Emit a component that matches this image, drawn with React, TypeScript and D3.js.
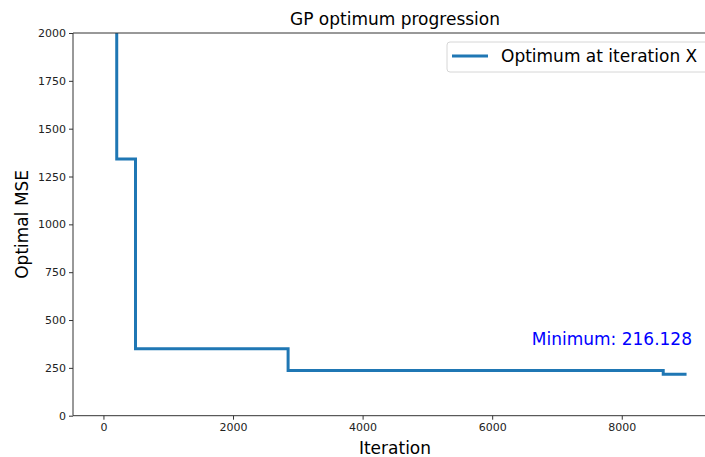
import { useEffect, useRef } from 'react'
import * as d3 from 'd3'

// improvement points of the optimizer (steps-post)
const iterations = [0, 205, 495, 2850, 8640, 9000]
const optimumMse = [5000, 1342, 350, 236, 216.128, 216.128]
const xTicks = [0, 2000, 4000, 6000, 8000]
const yTicks = [0, 250, 500, 750, 1000, 1250, 1500, 1750, 2000]
const minimumLabel = 'Minimum: 216.128'
const legendLabel = 'Optimum at iteration X'

const WIDTH = 705
const HEIGHT = 457
const FONT = '"DejaVu Sans", sans-serif'

export default function App() {
  const ref = useRef<SVGSVGElement | null>(null)

  useEffect(() => {
    if (!ref.current) {return}
    const svg = d3.select(ref.current)
    svg.selectAll('*').remove()

    const left = 73
    const top = 33
    const bottom = 415.7
    const right = 717 // axes run past the cropped image edge

    const x = d3.scaleLinear().domain([-470, 9470]).range([left, right])
    const y = d3.scaleLinear().domain([0, 2000]).range([bottom, top])

    svg.append('defs').append('clipPath').attr('id', 'plot-clip')
      .append('rect').attr('x', left).attr('y', top).attr('width', right - left).attr('height', bottom - top)

    const pts = iterations.map((it, i) => [it, optimumMse[i]] as [number, number])
    const line = d3.line<[number, number]>().x((d) => x(d[0])).y((d) => y(d[1])).curve(d3.curveStepAfter)

    svg.append('path')
      .attr('d', line(pts))
      .attr('clip-path', 'url(#plot-clip)')
      .attr('fill', 'none')
      .attr('stroke', '#1f77b4')
      .attr('stroke-width', 3)

    // spines
    const spine = '#333'
    svg.append('line').attr('x1', left).attr('x2', left).attr('y1', top).attr('y2', bottom).attr('stroke', spine)
    svg.append('line').attr('x1', left).attr('x2', right).attr('y1', bottom).attr('y2', bottom).attr('stroke', spine)
    svg.append('line').attr('x1', left).attr('x2', right).attr('y1', top).attr('y2', top).attr('stroke', spine)

    const xAxis = svg.append('g').attr('transform', `translate(0,${bottom})`)
      .call(d3.axisBottom(x).tickValues(xTicks).tickSize(4).tickPadding(4).tickFormat(d3.format('d')))
    xAxis.select('.domain').remove()

    const yAxis = svg.append('g').attr('transform', `translate(${left},0)`)
      .call(d3.axisLeft(y).tickValues(yTicks).tickSize(4).tickPadding(3).tickFormat(d3.format('d')))
    yAxis.select('.domain').remove()

    svg.selectAll('.tick line').attr('stroke', spine)
    svg.selectAll('.tick text').attr('font-family', FONT).attr('font-size', 11).attr('fill', '#222')

    svg.append('text')
      .attr('x', (left + right) / 2).attr('y', 25)
      .attr('text-anchor', 'middle').attr('font-family', FONT).attr('font-size', 17)
      .text('GP optimum progression')

    svg.append('text')
      .attr('x', (left + right) / 2).attr('y', 454)
      .attr('text-anchor', 'middle').attr('font-family', FONT).attr('font-size', 17)
      .text('Iteration')

    svg.append('text')
      .attr('transform', `translate(28,${(top + bottom) / 2}) rotate(-90)`)
      .attr('text-anchor', 'middle').attr('font-family', FONT).attr('font-size', 17)
      .text('Optimal MSE')

    svg.append('text')
      .attr('x', 692).attr('y', 345)
      .attr('text-anchor', 'end').attr('font-family', FONT).attr('font-size', 17)
      .attr('fill', '#0000ff')
      .text(minimumLabel)

    // legend
    const lg = svg.append('g')
    lg.append('rect')
      .attr('x', 447).attr('y', 42).attr('width', 262).attr('height', 30).attr('rx', 3)
      .attr('fill', 'white').attr('fill-opacity', 0.8).attr('stroke', '#d6d6d6')
    lg.append('line')
      .attr('x1', 452).attr('x2', 488).attr('y1', 56).attr('y2', 56)
      .attr('stroke', '#1f77b4').attr('stroke-width', 3)
    lg.append('text')
      .attr('x', 501).attr('y', 62)
      .attr('font-family', FONT).attr('font-size', 17)
      .text(legendLabel)
  }, [])

  return (
    <svg
      ref={ref}
      width={WIDTH}
      height={HEIGHT}
      style={{ position: 'absolute', left: 0, top: 0, background: 'white' }}
    />
  )
}
